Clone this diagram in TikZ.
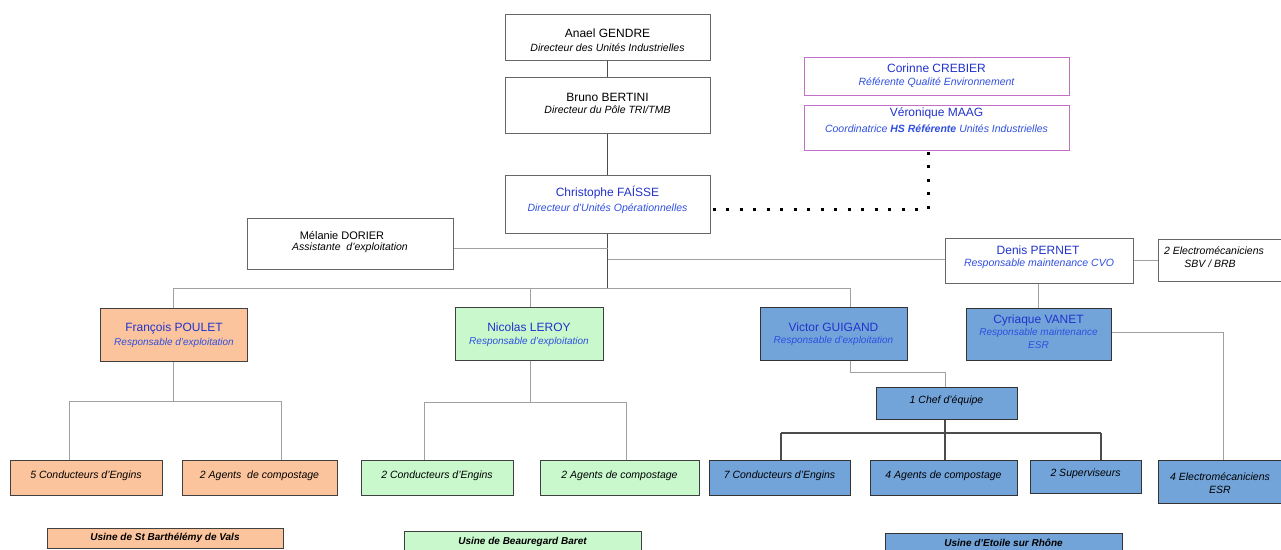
\documentclass[tikz,border=0pt]{standalone}
\usepackage{fontspec}
\setmainfont{Liberation Sans}
\definecolor{peach}{HTML}{FBC49C}
\definecolor{mint}{HTML}{C8F8CC}
\definecolor{sky}{HTML}{72A4DA}
\definecolor{nameblue}{HTML}{2233CC}
\definecolor{subblue}{HTML}{2F4FE0}
\definecolor{magb}{HTML}{C070C8}
\definecolor{linegray}{HTML}{A0A0A0}
\begin{document}
\begin{tikzpicture}[x=1pt,y=-1pt,
  wbox/.style={draw=black!60,line width=1pt,fill=white,inner sep=0pt},
  mbox/.style={draw=magb,line width=1pt,fill=white,inner sep=0pt},
  obox/.style={draw=black!75,line width=1pt,fill=peach,inner sep=0pt},
  gbox/.style={draw=black!75,line width=1pt,fill=mint,inner sep=0pt},
  bbox/.style={draw=black!80,line width=1pt,fill=sky,inner sep=0pt},
  nm/.style={inner sep=0pt,font=\fontsize{12}{14}\selectfont},
  bnm/.style={nm,text=nameblue},
  st/.style={inner sep=0pt,font=\fontsize{10.5}{12}\selectfont\itshape},
  bst/.style={st,text=subblue},
  sst/.style={inner sep=0pt,font=\fontsize{10}{12}\selectfont\itshape,text=subblue},
  bt/.style={inner sep=0pt,font=\fontsize{10.5}{12}\selectfont\itshape},
  ut/.style={inner sep=0pt,font=\fontsize{10}{12}\selectfont\bfseries\itshape},
  dk/.style={draw=black!70,line width=1.2pt},
  lt/.style={draw=linegray,line width=1pt},
  dotl/.style={draw=black,line width=3pt,dash pattern=on 3pt off 10.5pt}
]
\useasboundingbox (0,0) rectangle (1281,549);
\fill[white] (0,0) rectangle (1281,549);

% ---------- boxes ----------
\node[wbox,minimum width=205pt,minimum height=46pt] (anael) at (607.5,37) {};
\node[wbox,minimum width=205pt,minimum height=56pt] (bruno) at (607.5,105) {};
\node[wbox,minimum width=205pt,minimum height=58pt] (christophe) at (607.5,204) {};
\node[mbox,minimum width=265pt,minimum height=38pt] (corinne) at (936.5,76) {};
\node[mbox,minimum width=265pt,minimum height=45pt] (veronique) at (936.5,127.5) {};
\node[wbox,minimum width=206pt,minimum height=51pt] (melanie) at (350,243.5) {};
\node[wbox,minimum width=188pt,minimum height=45pt] (denis) at (1039,260.5) {};
\node[wbox,minimum width=124pt,minimum height=42pt] (electro) at (1220,260) {};
\node[obox,minimum width=147pt,minimum height=53pt] (francois) at (173.5,334.5) {};
\node[gbox,minimum width=148pt,minimum height=53pt] (nicolas) at (529,333.5) {};
\node[bbox,minimum width=147pt,minimum height=53pt] (victor) at (833.5,333.5) {};
\node[bbox,minimum width=145pt,minimum height=52pt] (cyriaque) at (1038.5,334) {};
\node[bbox,minimum width=141pt,minimum height=32pt] (chef) at (946.5,403) {};
\node[obox,minimum width=152pt,minimum height=35pt] (b1) at (86,478) {};
\node[obox,minimum width=155pt,minimum height=35pt] (b2) at (259.5,478) {};
\node[gbox,minimum width=152pt,minimum height=35pt] (b3) at (437,478) {};
\node[gbox,minimum width=159pt,minimum height=35pt] (b4) at (619.5,478) {};
\node[bbox,minimum width=141pt,minimum height=35pt] (b5) at (779.5,478) {};
\node[bbox,minimum width=147pt,minimum height=35pt] (b6) at (943.5,478) {};
\node[bbox,minimum width=111pt,minimum height=33pt] (b7) at (1085.5,477) {};
\node[bbox,minimum width=123pt,minimum height=43pt] (b8) at (1220,482) {};
\node[obox,minimum width=236pt,minimum height=20pt] (u1) at (165,538) {};
\node[gbox,minimum width=237pt,minimum height=24pt] (u2) at (522.5,543) {};
\node[bbox,minimum width=237pt,minimum height=24pt] (u3) at (1003.5,545) {};

% ---------- texts ----------
\node[nm] (anaelN) at (607.5,33) {Anael GENDRE};
\node[st] (anaelS) at (607.5,48) {Directeur des Unités Industrielles};
\node[nm] (brunoN) at (607.5,97) {Bruno BERTINI};
\node[st] (brunoS) at (607.5,110) {Directeur du Pôle TRI/TMB};
\node[bnm] (chrN) at (607.5,193) {Christophe FAÍSSE};
\node[bst] (chrS) at (607.5,209) {Directeur d’Unités Opérationnelles};
\node[bnm] (corN) at (936.5,68) {Corinne CREBIER};
\node[bst] (corS) at (936.5,83) {Référente Qualité Environnement};
\node[bnm] (verN) at (936.5,113) {Véronique MAAG};
\node[bst] (verS) at (936.5,129) {Coordinatrice \textbf{HS Référente} Unités Industrielles};
\node[nm,font=\fontsize{11}{13}\selectfont] (melN) at (342,235) {Mélanie DORIER};
\node[st] (melS) at (350,248) {Assistante \ d’exploitation};
\node[bnm] (denN) at (1038,250) {Denis PERNET};
\node[bst] (denS) at (1039,264) {Responsable maintenance CVO};
\node[st] (eleA) at (1214,251) {2 Electromécaniciens};
\node[st] (eleB) at (1210,264) {SBV / BRB};
\node[bnm] (fraN) at (174,328) {François POULET};
\node[sst] (fraS) at (174,343) {Responsable d’exploitation};
\node[bnm] (nicN) at (529,327) {Nicolas LEROY};
\node[sst] (nicS) at (529,342) {Responsable d’exploitation};
\node[bnm] (vicN) at (833.5,327) {Victor GUIGAND};
\node[sst] (vicS) at (833.5,341) {Responsable d’exploitation};
\node[bnm] (cyrN) at (1038.5,320) {Cyriaque VANET};
\node[sst] (cyrS) at (1038.5,333) {Responsable maintenance};
\node[sst] (cyrE) at (1038.5,345) {ESR};
\node[bt] (chefT) at (946.5,401) {1 Chef d’équipe};
\node[bt] (b1T) at (86,476) {5 Conducteurs d’Engins};
\node[bt] (b2T) at (259.5,476) {2 Agents \ de compostage};
\node[bt] (b3T) at (437,476) {2 Conducteurs d’Engins};
\node[bt] (b4T) at (619.5,476) {2 Agents de compostage};
\node[bt] (b5T) at (779.5,476) {7 Conducteurs d’Engins};
\node[bt] (b6T) at (943.5,476) {4 Agents de compostage};
\node[bt] (b7T) at (1085.5,474) {2 Superviseurs};
\node[bt] (b8A) at (1220,477) {4 Electromécaniciens};
\node[bt] (b8B) at (1220,490) {ESR};
\node[ut] (u1T) at (165,538) {Usine de St Barthélémy de Vals};
\node[ut] (u2T) at (522.5,542) {Usine de Beauregard Baret};
\node[ut] (u3T) at (1003.5,543) {Usine d’Etoile sur Rhône};

% ---------- connectors ----------
\draw[dk] (anael.south) -- (bruno.north);
\draw[dk] (bruno.south) -- (christophe.north);
\coordinate (bus) at (607.5,288);
\coordinate (busL) at (173.5,288);
\coordinate (busN) at (530,288);
\coordinate (busR) at (850,288);
\draw[dk] (christophe.south) -- (bus);
\draw[lt] (busL) -- (busR);
\draw[lt] (busL) -- (francois.north);
\draw[lt] (busN) -- (busN |- nicolas.north);
\draw[lt] (busR) -- (busR |- victor.north);
\coordinate (mj) at (607.5,248);
\draw[lt] (mj -| melanie.east) -- (mj);
\coordinate (dj) at (607.5,259);
\draw[lt] (dj) -- (dj -| denis.west);
\draw[lt] (denis.east) -- (denis.east -| electro.west);
\draw[lt] (cyriaque.north) -- (cyriaque.north |- denis.south);
\coordinate (cj) at (1223,332);
\draw[lt] (cj -| cyriaque.east) -- (cj) -- (cj |- b8.north);
% Francois
\coordinate (fj) at (173.5,401);
\coordinate (fa) at (69,401);
\coordinate (fb) at (281,401);
\draw[lt] (francois.south) -- (fj);
\draw[lt] (fa) -- (fb);
\draw[lt] (fa) -- (fa |- b1.north);
\draw[lt] (fb) -- (fb |- b2.north);
% Nicolas
\coordinate (nj) at (530,402);
\coordinate (na) at (424,402);
\coordinate (nb) at (626,402);
\draw[lt] (nj |- nicolas.south) -- (nj);
\draw[lt] (na) -- (nb);
\draw[lt] (na) -- (na |- b3.north);
\draw[lt] (nb) -- (nb |- b4.north);
% Victor -> chef
\coordinate (vj1) at (850,372);
\coordinate (vj2) at (945,372);
\draw[lt] (vj1 |- victor.south) -- (vj1) -- (vj2) -- (vj2 |- chef.north);
\coordinate (ch) at (945,433);
\coordinate (ca) at (781,433);
\coordinate (cb) at (1101,433);
\draw[dk] (ch |- chef.south) -- (ch);
\draw[dk] (ca) -- (cb);
\draw[dk] (ca) -- (ca |- b5.north);
\draw[dk] (ch) -- (ch |- b6.north);
\draw[dk] (cb) -- (cb |- b7.north);
% dotted link
\coordinate (dc) at (928,209);
\draw[dotl] (dc -| christophe.east) ++(2,0) -- (dc) -- (dc |- veronique.south);
\end{tikzpicture}
\end{document}
